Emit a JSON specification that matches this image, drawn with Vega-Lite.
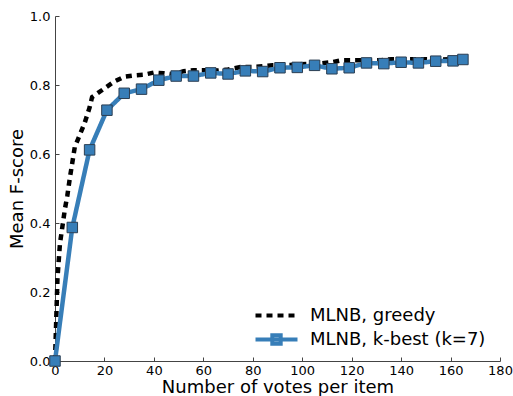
{
  "$schema": "https://vega.github.io/schema/vega-lite/v6.json",
  "width": 445,
  "height": 345,
  "autosize": {"type": "none"},
  "padding": {"left": 55, "top": 16, "right": 13, "bottom": 35},
  "background": "white",
  "config": {
    "view": {"stroke": null},
    "font": "DejaVu Sans",
    "axis": {
      "grid": false,
      "domainColor": "#444444",
      "tickColor": "#444444",
      "tickSize": -4,
      "labelFont": "DejaVu Sans",
      "labelFontSize": 13,
      "labelColor": "#000000",
      "titleFont": "DejaVu Sans",
      "titleFontSize": 18,
      "titleFontWeight": "normal",
      "titleColor": "#000000",
      "labelFlush": false,
      "labelOverlap": false
    },
    "legend": {
      "orient": "none",
      "legendX": 209,
      "legendY": 287,
      "title": null,
      "padding": 0,
      "symbolSize": 441,
      "symbolStrokeWidth": 4,
      "labelFont": "DejaVu Sans",
      "labelFontSize": 18,
      "labelColor": "#000000",
      "labelOffset": 21,
      "labelLimit": 400,
      "rowPadding": 2
    }
  },
  "datasets": {
    "curves": [
      {"series": "MLNB, greedy", "votes": 0, "f": 0.0},
      {"series": "MLNB, greedy", "votes": 1, "f": 0.24},
      {"series": "MLNB, greedy", "votes": 2, "f": 0.34},
      {"series": "MLNB, greedy", "votes": 3, "f": 0.39},
      {"series": "MLNB, greedy", "votes": 4, "f": 0.44},
      {"series": "MLNB, greedy", "votes": 5, "f": 0.48},
      {"series": "MLNB, greedy", "votes": 6, "f": 0.53},
      {"series": "MLNB, greedy", "votes": 7, "f": 0.575},
      {"series": "MLNB, greedy", "votes": 8, "f": 0.62},
      {"series": "MLNB, greedy", "votes": 10, "f": 0.655},
      {"series": "MLNB, greedy", "votes": 12, "f": 0.69},
      {"series": "MLNB, greedy", "votes": 14, "f": 0.735},
      {"series": "MLNB, greedy", "votes": 15, "f": 0.765},
      {"series": "MLNB, greedy", "votes": 17, "f": 0.775},
      {"series": "MLNB, greedy", "votes": 20, "f": 0.79},
      {"series": "MLNB, greedy", "votes": 24, "f": 0.81},
      {"series": "MLNB, greedy", "votes": 28, "f": 0.824},
      {"series": "MLNB, greedy", "votes": 32, "f": 0.828},
      {"series": "MLNB, greedy", "votes": 36, "f": 0.83},
      {"series": "MLNB, greedy", "votes": 40, "f": 0.836},
      {"series": "MLNB, greedy", "votes": 44, "f": 0.834},
      {"series": "MLNB, greedy", "votes": 48, "f": 0.83},
      {"series": "MLNB, greedy", "votes": 52, "f": 0.84},
      {"series": "MLNB, greedy", "votes": 56, "f": 0.843},
      {"series": "MLNB, greedy", "votes": 62, "f": 0.843},
      {"series": "MLNB, greedy", "votes": 66, "f": 0.842},
      {"series": "MLNB, greedy", "votes": 70, "f": 0.845},
      {"series": "MLNB, greedy", "votes": 75, "f": 0.852},
      {"series": "MLNB, greedy", "votes": 80, "f": 0.852},
      {"series": "MLNB, greedy", "votes": 88, "f": 0.857},
      {"series": "MLNB, greedy", "votes": 95, "f": 0.858},
      {"series": "MLNB, greedy", "votes": 102, "f": 0.861},
      {"series": "MLNB, greedy", "votes": 108, "f": 0.863},
      {"series": "MLNB, greedy", "votes": 112, "f": 0.866},
      {"series": "MLNB, greedy", "votes": 116, "f": 0.872},
      {"series": "MLNB, greedy", "votes": 122, "f": 0.872},
      {"series": "MLNB, greedy", "votes": 128, "f": 0.871},
      {"series": "MLNB, greedy", "votes": 132, "f": 0.872},
      {"series": "MLNB, greedy", "votes": 136, "f": 0.875},
      {"series": "MLNB, greedy", "votes": 145, "f": 0.875},
      {"series": "MLNB, greedy", "votes": 150, "f": 0.875},
      {"series": "MLNB, greedy", "votes": 156, "f": 0.874},
      {"series": "MLNB, greedy", "votes": 160, "f": 0.875},
      {"series": "MLNB, greedy", "votes": 165, "f": 0.876},
      {"series": "MLNB, k-best (k=7)", "votes": 0, "f": 0.0},
      {"series": "MLNB, k-best (k=7)", "votes": 7, "f": 0.387},
      {"series": "MLNB, k-best (k=7)", "votes": 14, "f": 0.612},
      {"series": "MLNB, k-best (k=7)", "votes": 21, "f": 0.727},
      {"series": "MLNB, k-best (k=7)", "votes": 28, "f": 0.776},
      {"series": "MLNB, k-best (k=7)", "votes": 35, "f": 0.788},
      {"series": "MLNB, k-best (k=7)", "votes": 42, "f": 0.814},
      {"series": "MLNB, k-best (k=7)", "votes": 49, "f": 0.826},
      {"series": "MLNB, k-best (k=7)", "votes": 56, "f": 0.826},
      {"series": "MLNB, k-best (k=7)", "votes": 63, "f": 0.835},
      {"series": "MLNB, k-best (k=7)", "votes": 70, "f": 0.832},
      {"series": "MLNB, k-best (k=7)", "votes": 77, "f": 0.841},
      {"series": "MLNB, k-best (k=7)", "votes": 84, "f": 0.839},
      {"series": "MLNB, k-best (k=7)", "votes": 91, "f": 0.85},
      {"series": "MLNB, k-best (k=7)", "votes": 98, "f": 0.851},
      {"series": "MLNB, k-best (k=7)", "votes": 105, "f": 0.857},
      {"series": "MLNB, k-best (k=7)", "votes": 112, "f": 0.847},
      {"series": "MLNB, k-best (k=7)", "votes": 119, "f": 0.85},
      {"series": "MLNB, k-best (k=7)", "votes": 126, "f": 0.864},
      {"series": "MLNB, k-best (k=7)", "votes": 133, "f": 0.862},
      {"series": "MLNB, k-best (k=7)", "votes": 140, "f": 0.866},
      {"series": "MLNB, k-best (k=7)", "votes": 147, "f": 0.864},
      {"series": "MLNB, k-best (k=7)", "votes": 154, "f": 0.869},
      {"series": "MLNB, k-best (k=7)", "votes": 161, "f": 0.87},
      {"series": "MLNB, k-best (k=7)", "votes": 165, "f": 0.874}
    ]
  },
  "data": {"name": "curves"},
  "encoding": {
    "x": {
      "field": "votes",
      "type": "quantitative",
      "scale": {"domain": [0, 180], "nice": false, "zero": false},
      "axis": {"title": "Number of votes per item", "values": [0, 20, 40, 60, 80, 100, 120, 140, 160, 180], "labelPadding": 7, "titlePadding": 1}
    },
    "y": {
      "field": "f",
      "type": "quantitative",
      "scale": {"domain": [0, 1], "nice": false},
      "axis": {"title": "Mean F-score", "values": [0, 0.2, 0.4, 0.6, 0.8, 1.0], "format": ".1f", "labelPadding": 9, "titlePadding": 3}
    }
  },
  "layer": [
    {
      "mark": {"type": "line", "strokeWidth": 4.5, "clip": false},
      "encoding": {
        "color": {
          "field": "series",
          "type": "nominal",
          "scale": {"domain": ["MLNB, greedy", "MLNB, k-best (k=7)"], "range": ["#000000", "#377eb8"]}
        },
        "strokeDash": {
          "field": "series",
          "type": "nominal",
          "scale": {"domain": ["MLNB, greedy", "MLNB, k-best (k=7)"], "range": [[6, 5], [1, 0]]}
        }
      }
    },
    {
      "transform": [{"filter": "datum.series == 'MLNB, k-best (k=7)'"}],
      "mark": {"type": "point", "shape": "square", "filled": true, "size": 110, "fill": "#377eb8", "stroke": "#2b3e52", "strokeWidth": 1, "opacity": 1, "clip": false}
    },
    {
      "transform": [{"filter": "datum.f > 5"}],
      "mark": {"type": "point", "strokeWidth": 4, "filled": false, "opacity": 1},
      "encoding": {
        "color": {"field": "series", "type": "nominal"},
        "strokeDash": {"field": "series", "type": "nominal"},
        "shape": {
          "field": "series",
          "type": "nominal",
          "scale": {"domain": ["MLNB, greedy", "MLNB, k-best (k=7)"], "range": ["M-2,0H2", "M-2,0H2M-0.4,-0.4H0.4V0.4H-0.4Z"]}
        }
      }
    }
  ]
}
